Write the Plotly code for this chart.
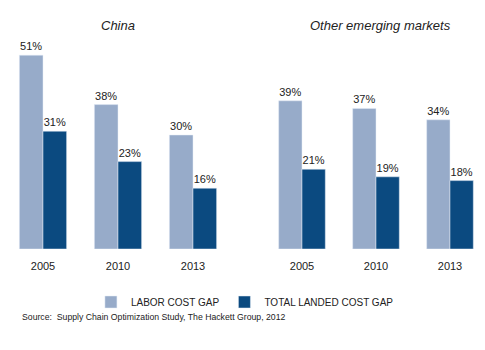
import plotly.graph_objects as go

years = ["2005", "2010", "2013"]
china_labor = [51, 38, 30]
china_landed = [31, 23, 16]
other_labor = [39, 37, 34]
other_landed = [21, 19, 18]
series_names = ["LABOR COST GAP", "TOTAL LANDED COST GAP"]
panel_titles = ["China", "Other emerging markets"]
source_text = "Source:  Supply Chain Optimization Study, The Hackett Group, 2012"

LIGHT = "#97abc9"
DARK = "#0b4a80"
W, H = 485, 350
FONT = "Liberation Sans, Arial, sans-serif"

fig = go.Figure()

def add_pair(labor, landed, xa, ya, show):
    fig.add_trace(go.Bar(x=years, y=labor, name=series_names[0], marker_color=LIGHT,
                         text=[f"{v}%" for v in labor], textposition="outside",
                         textfont=dict(size=11, color="#222"), cliponaxis=False,
                         xaxis=xa, yaxis=ya, showlegend=show, legendgroup="a"))
    fig.add_trace(go.Bar(x=years, y=landed, name=series_names[1], marker_color=DARK,
                         text=[f"{v}%" for v in landed], textposition="outside",
                         textfont=dict(size=11, color="#222"), cliponaxis=False,
                         xaxis=xa, yaxis=ya, showlegend=show, legendgroup="b"))

add_pair(china_labor, china_landed, "x", "y", True)
add_pair(other_labor, other_landed, "x2", "y2", False)

ax_common = dict(type="category", showgrid=False, zeroline=False, showline=False,
                 ticks="outside", ticklen=7, tickcolor="rgba(0,0,0,0)",
                 tickfont=dict(size=11, color="#222", family=FONT))
y_common = dict(range=[0, 60], showgrid=False, zeroline=False, showline=False,
                showticklabels=False)

fig.update_layout(
    width=W, height=H,
    margin=dict(l=0, r=0, t=21, b=101),
    paper_bgcolor="white", plot_bgcolor="white",
    barmode="group", bargap=0.37, bargroupgap=0,
    font=dict(family=FONT, color="#222"),
    xaxis=dict(domain=[5.5 / W, 230.5 / W], range=[-0.5, 2.5], anchor="y", **ax_common),
    xaxis2=dict(domain=[265 / W, 479.6 / W], range=[-0.5, 2.4], anchor="y2", **ax_common),
    yaxis=dict(domain=[0, 1], anchor="x", **y_common),
    yaxis2=dict(domain=[0, 1], anchor="x2", **y_common),
    legend=dict(orientation="h", x=0.505, xanchor="center", y=-53 / 228, yanchor="middle",
                font=dict(size=10, color="#222"), itemwidth=30, traceorder="normal",
                tracegroupgap=0),
    showlegend=True,
)

fig.add_annotation(text=f"<i>{panel_titles[0]}</i>", x=118 / W, xref="paper", xanchor="center",
                   y=25, yref="paper", yanchor="middle", showarrow=False,
                   font=dict(size=13, color="#222"))
fig.add_annotation(text=f"<i>{panel_titles[1]}</i>", x=380 / W, xref="paper", xanchor="center",
                   y=25, yref="paper", yanchor="middle", showarrow=False,
                   font=dict(size=13, color="#222"))
fig.add_annotation(text=source_text, x=20 / W, xref="paper", xanchor="left",
                   y=317, yref="paper", yanchor="middle", showarrow=False,
                   font=dict(size=8.7, color="#222"))

plot_h = H - 21 - 101
for a in fig.layout.annotations:
    a.y = (H - 101 - a.y) / plot_h

fig.write_html("out.html")
